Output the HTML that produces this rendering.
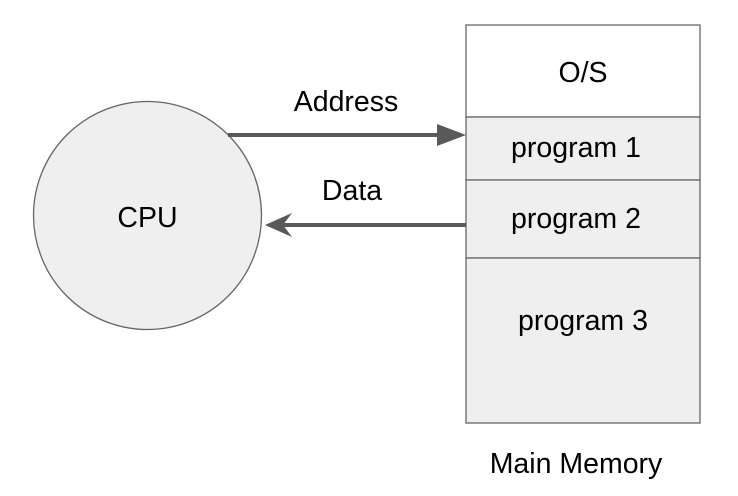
<!DOCTYPE html>
<html><head><meta charset="utf-8"><style>
html,body{margin:0;padding:0;background:#fff;}
svg{display:block;}
text{font-family:"Liberation Sans",Arial,sans-serif;font-size:28.5px;fill:#000;}
</style></head><body>
<svg width="738" height="496" viewBox="0 0 738 496" xmlns="http://www.w3.org/2000/svg">
<circle cx="147.5" cy="215.5" r="114" fill="#efefef" stroke="#666" stroke-width="1.3"/>
<text x="147.5" y="227" text-anchor="middle">CPU</text>
<rect x="466" y="25" width="234" height="92" fill="#fff" stroke="#666" stroke-width="1.3"/>
<rect x="466" y="117" width="234" height="63" fill="#efefef" stroke="#666" stroke-width="1.3"/>
<rect x="466" y="180" width="234" height="78" fill="#efefef" stroke="#666" stroke-width="1.3"/>
<rect x="466" y="258" width="234" height="165" fill="#efefef" stroke="#666" stroke-width="1.3"/>
<text x="583" y="82" text-anchor="middle">O/S</text>
<text x="576" y="157" text-anchor="middle">program 1</text>
<text x="576" y="228" text-anchor="middle">program 2</text>
<text x="583" y="330" text-anchor="middle">program 3</text>
<text x="576" y="473" text-anchor="middle">Main Memory</text>
<line x1="228" y1="135" x2="440" y2="135" stroke="#595959" stroke-width="4"/>
<polygon points="437,124 466,135 437,146" fill="#595959"/>
<text x="346" y="111" text-anchor="middle">Address</text>
<line x1="466" y1="225" x2="272" y2="225" stroke="#595959" stroke-width="4"/>
<polygon points="265,225 292,213 283,225 292,237" fill="#595959"/>
<text x="352" y="200" text-anchor="middle">Data</text>
</svg>
</body></html>
